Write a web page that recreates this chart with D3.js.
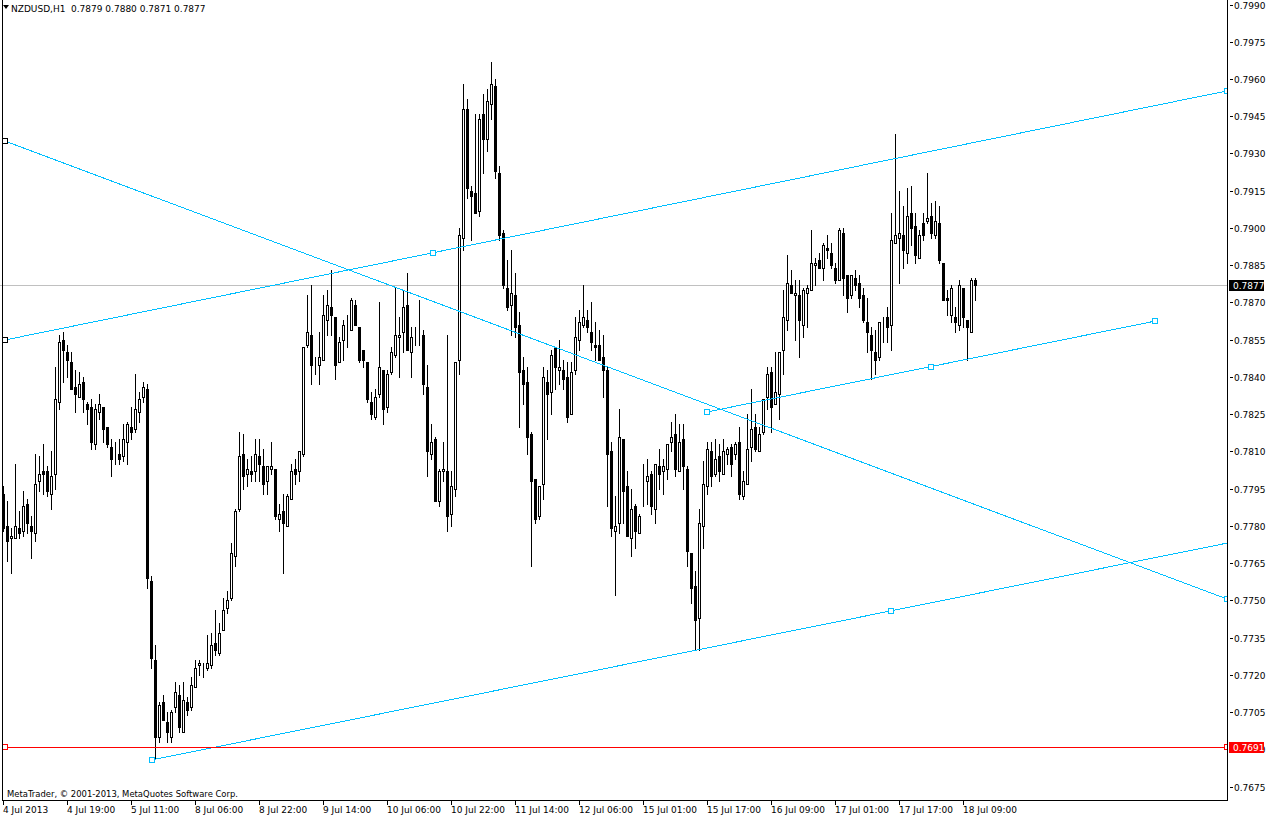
<!DOCTYPE html>
<html>
<head>
<meta charset="utf-8">
<script src="https://cdn.jsdelivr.net/npm/d3@7"></script>
<style>
html, body { margin: 0; padding: 0; background: #fff; }
svg { display: block; font-family: "DejaVu Sans", sans-serif; font-size: 9px; }
</style>
</head>
<body>
<div id="chart"></div>
<script>
// NZDUSD H1 candles, 4 Jul 03:00 .. 18 Jul 12:00
const symbolName = 'NZDUSD,H1';
const lastQuote = '0.7879 0.7880 0.7871 0.7877';
const copyright = 'MetaTrader, \u00a9 2001-2013, MetaQuotes Software Corp.';

const barOpen = [
  .7793,.7780,.7775,.7775,.7779,.7778,.7789,.7780,.7777,.7798,
  .7802,.7802,.7793,.7801,.7830,.7855,.7850,.7846,.7836,.7832,
  .7838,.7829,.7828,.7813,.7826,.7828,.7820,.7812,.7808,.7809,
  .7808,.7814,.7820,.7819,.7826,.7832,.7835,.7758,.7726,.7695,
  .7709,.7701,.7695,.7707,.7712,.7697,.7709,.7707,.7715,.7724,
  .7724,.7723,.7724,.7733,.7729,.7738,.7747,.7751,.7768,.7787,
  .7809,.7801,.7802,.7802,.7808,.7804,.7798,.7803,.7803,.7783,
  .7786,.7780,.7791,.7803,.7802,.7809,.7853,.7857,.7844,.7845,
  .7847,.7863,.7868,.7864,.7846,.7855,.7860,.7859,.7869,.7860,
  .7851,.7846,.7830,.7824,.7833,.7843,.7828,.7842,.7849,.7856,
  .7858,.7869,.7850,.7857,.7858,.7857,.7836,.7809,.7815,.7790,
  .7802,.7802,.7785,.7795,.7847,.7896,.7948,.7915,.7914,.7907,
  .7946,.7936,.7950,.7957,.7922,.7898,.7876,.7869,.7873,.7861,
  .7843,.7838,.7817,.7799,.7784,.7797,.7838,.7834,.7852,.7843,
  .7843,.7840,.7825,.7843,.7855,.7861,.7863,.7858,.7853,.7853,
  .7848,.7843,.7810,.7778,.7781,.7815,.7796,.7775,.7788,.7777,
  .7799,.7798,.7801,.7787,.7804,.7802,.7803,.7814,.7817,.7802,
  .7815,.7803,.7769,.7756,.7743,.7780,.7796,.7810,.7801,.7808,
  .7801,.7809,.7812,.7809,.7814,.7792,.7797,.7812,.7820,.7810,
  .7818,.7832,.7842,.7829,.7833,.7851,.7863,.7877,.7873,.7873,
  .7861,.7874,.7875,.7885,.7887,.7884,.7892,.7890,.7884,.7879,
  .7898,.7881,.7873,.7880,.7878,.7873,.7862,.7857,.7850,.7848,
  .7863,.7864,.7861,.7894,.7896,.7897,.7890,.7906,.7901,.7888,
  .7902,.7903,.7905,.7897,.7902,.7886,.7872,.7865,.7864,.7861,
  .7876,.7863,.7858,.7879
];
const barHigh = [
  .7796,.7790,.7779,.7805,.7786,.7794,.7791,.7784,.7809,.7808,
  .7813,.7804,.7810,.7844,.7857,.7858,.7853,.7850,.7843,.7842,
  .7840,.7830,.7831,.7829,.7833,.7828,.7820,.7815,.7814,.7815,
  .7821,.7822,.7828,.7841,.7834,.7838,.7837,.7760,.7732,.7709,
  .7712,.7705,.7706,.7717,.7716,.7717,.7711,.7719,.7726,.7726,
  .7725,.7736,.7737,.7746,.7741,.7751,.7754,.7773,.7787,.7818,
  .7817,.7807,.7808,.7815,.7815,.7811,.7804,.7814,.7803,.7789,
  .7793,.7793,.7805,.7807,.7810,.7852,.7873,.7877,.7848,.7858,
  .7873,.7875,.7883,.7864,.7856,.7863,.7865,.7872,.7871,.7860,
  .7851,.7846,.7834,.7835,.7870,.7843,.7843,.7852,.7876,.7864,
  .7875,.7882,.7860,.7860,.7871,.7859,.7845,.7821,.7816,.7803,
  .7814,.7857,.7802,.7846,.7900,.7958,.7952,.7917,.7946,.7946,
  .7954,.7956,.7967,.7960,.7925,.7899,.7887,.7891,.7882,.7866,
  .7848,.7844,.7818,.7799,.7796,.7844,.7843,.7851,.7852,.7855,
  .7847,.7846,.7846,.7864,.7867,.7877,.7867,.7870,.7862,.7859,
  .7857,.7844,.7814,.7792,.7827,.7815,.7802,.7795,.7789,.7785,
  .7805,.7807,.7802,.7805,.7811,.7807,.7813,.7822,.7825,.7821,
  .7821,.7804,.7769,.7762,.7787,.7806,.7814,.7814,.7815,.7813,
  .7815,.7812,.7813,.7814,.7820,.7802,.7825,.7835,.7825,.7820,
  .7831,.7844,.7844,.7850,.7850,.7875,.7889,.7883,.7879,.7879,
  .7876,.7877,.7899,.7888,.7890,.7894,.7897,.7894,.7886,.7900,
  .7900,.7881,.7881,.7883,.7881,.7876,.7872,.7860,.7859,.7862,
  .7864,.7868,.7906,.7938,.7915,.7909,.7916,.7917,.7906,.7899,
  .7906,.7922,.7910,.7911,.7909,.7886,.7875,.7877,.7868,.7879,
  .7876,.7863,.7880,.7880
];
const barLow = [
  .7778,.7766,.7761,.7775,.7775,.7776,.7777,.7767,.7774,.7794,
  .7793,.7792,.7787,.7795,.7827,.7838,.7840,.7835,.7826,.7832,
  .7826,.7821,.7811,.7811,.7823,.7814,.7812,.7800,.7805,.7805,
  .7806,.7805,.7815,.7818,.7822,.7830,.7755,.7723,.7686,.7693,
  .7702,.7693,.7693,.7705,.7697,.7697,.7704,.7706,.7715,.7720,
  .7719,.7722,.7723,.7728,.7728,.7738,.7745,.7750,.7764,.7786,
  .7795,.7796,.7798,.7798,.7798,.7793,.7793,.7801,.7783,.7778,
  .7761,.7780,.7791,.7797,.7798,.7808,.7852,.7837,.7841,.7837,
  .7847,.7857,.7857,.7839,.7846,.7847,.7852,.7859,.7861,.7846,
  .7844,.7830,.7823,.7823,.7832,.7821,.7826,.7841,.7848,.7840,
  .7850,.7851,.7840,.7853,.7853,.7833,.7800,.7807,.7790,.7788,
  .7798,.7778,.7780,.7792,.7841,.7891,.7912,.7895,.7906,.7905,
  .7922,.7931,.7944,.7920,.7895,.7876,.7867,.7857,.7856,.7820,
  .7829,.7809,.7764,.7781,.7783,.7791,.7815,.7825,.7835,.7837,
  .7835,.7822,.7825,.7841,.7851,.7860,.7858,.7851,.7847,.7847,
  .7832,.7788,.7776,.7752,.7777,.7781,.7776,.7768,.7771,.7777,
  .7788,.7789,.7785,.7781,.7795,.7793,.7799,.7810,.7800,.7802,
  .7795,.7764,.7749,.7730,.7730,.7771,.7793,.7796,.7800,.7798,
  .7801,.7805,.7800,.7807,.7791,.7791,.7797,.7806,.7810,.7810,
  .7817,.7827,.7818,.7829,.7823,.7841,.7859,.7874,.7855,.7848,
  .7856,.7860,.7875,.7877,.7884,.7879,.7888,.7884,.7878,.7879,
  .7873,.7866,.7872,.7875,.7868,.7862,.7850,.7839,.7841,.7847,
  .7854,.7854,.7851,.7894,.7878,.7884,.7886,.7893,.7886,.7888,
  .7895,.7902,.7896,.7896,.7886,.7871,.7865,.7862,.7858,.7859,
  .7860,.7847,.7858,.7871
];
const barClose = [
  .7779,.7774,.7776,.7780,.7777,.7788,.7781,.7778,.7797,.7801,
  .7801,.7794,.7800,.7831,.7854,.7851,.7847,.7835,.7833,.7837,
  .7831,.7827,.7814,.7827,.7829,.7819,.7813,.7807,.7808,.7807,
  .7815,.7821,.7818,.7827,.7831,.7836,.7759,.7727,.7695,.7708,
  .7702,.7697,.7705,.7713,.7699,.7710,.7706,.7716,.7723,.7725,
  .7724,.7725,.7732,.7730,.7737,.7746,.7750,.7769,.7786,.7808,
  .7800,.7803,.7801,.7809,.7805,.7797,.7804,.7804,.7784,.7785,
  .7781,.7792,.7802,.7801,.7810,.7852,.7858,.7845,.7844,.7848,
  .7865,.7869,.7865,.7845,.7854,.7861,.7860,.7871,.7861,.7847,
  .7847,.7831,.7825,.7832,.7844,.7827,.7841,.7850,.7857,.7857,
  .7868,.7851,.7856,.7857,.7858,.7837,.7810,.7814,.7790,.7802,
  .7803,.7784,.7796,.7846,.7897,.7948,.7916,.7913,.7906,.7944,
  .7936,.7951,.7958,.7923,.7897,.7877,.7868,.7874,.7860,.7842,
  .7837,.7816,.7798,.7783,.7796,.7840,.7833,.7849,.7844,.7844,
  .7839,.7824,.7842,.7856,.7862,.7864,.7860,.7854,.7852,.7847,
  .7843,.7809,.7779,.7780,.7816,.7794,.7776,.7787,.7778,.7784,
  .7799,.7800,.7788,.7805,.7801,.7804,.7813,.7816,.7803,.7814,
  .7804,.7770,.7755,.7742,.7781,.7797,.7811,.7800,.7807,.7802,
  .7810,.7811,.7805,.7813,.7793,.7798,.7811,.7819,.7811,.7817,
  .7831,.7841,.7828,.7834,.7850,.7864,.7878,.7874,.7874,.7863,
  .7875,.7876,.7886,.7886,.7884,.7893,.7891,.7885,.7879,.7899,
  .7880,.7872,.7881,.7877,.7872,.7863,.7858,.7851,.7847,.7862,
  .7863,.7860,.7895,.7897,.7898,.7891,.7905,.7900,.7889,.7897,
  .7897,.7904,.7898,.7903,.7887,.7871,.7871,.7876,.7862,.7877,
  .7864,.7860,.7879,.7877
];

// one label every 16 bars
const timeLabels = [
  '4 Jul 2013', '4 Jul 19:00', '5 Jul 11:00', '8 Jul 06:00', '8 Jul 22:00',
  '9 Jul 14:00', '10 Jul 06:00', '10 Jul 22:00', '11 Jul 14:00', '12 Jul 06:00',
  '15 Jul 01:00', '15 Jul 17:00', '16 Jul 09:00', '17 Jul 01:00', '17 Jul 17:00',
  '18 Jul 09:00'
];
const priceLabels = [
  '0.7990', '0.7975', '0.7960', '0.7945', '0.7930', '0.7915', '0.7900', '0.7885',
  '0.7870', '0.7855', '0.7840', '0.7825', '0.7810', '0.7795', '0.7780', '0.7765',
  '0.7750', '0.7735', '0.7720', '0.7705', '0.7690', '0.7675'
];

const bidPrice = 0.7877;
const supportPrice = 0.7691;

// trend line anchors: [bar, price]; marks = bars where a handle square sits
const trendLines = [
  { a: [0.5, 0.79350], b: [306, 0.77506], marks: [0.5, 306] },
  { a: [0.5, 0.78549], b: [306, 0.79552], marks: [0.5, 107.5, 306] },
  { a: [37.25, 0.76858], b: [306, 0.77731], marks: [37.25, 222] },
  { a: [176, 0.78259], b: [288, 0.78625], marks: [176, 232, 288] }
];

const W = 1268, H = 818;
const plotRight = 1227, plotBottom = 800;
const cyan = '#00bfff';
const red = '#ff0000';

const svg = d3.select('#chart').append('svg')
  .attr('width', W)
  .attr('height', H);

const x = d3.scaleLinear().domain([0, 306]).range([3, 1227]);
const y = d3.scaleLinear().domain([0.7675, 0.7990]).range([786.7, 4.5]);

const px = v => Math.round(x(v));
const py = v => Math.round(y(v));

svg.append('defs').append('clipPath').attr('id', 'plot')
  .append('rect').attr('x', 0).attr('y', 0).attr('width', plotRight + 1).attr('height', plotBottom);

// bid line under the candles
svg.append('line')
  .attr('x1', 0).attr('x2', plotRight)
  .attr('y1', py(bidPrice) + 0.5).attr('y2', py(bidPrice) + 0.5)
  .attr('stroke', '#c0c0c0').attr('shape-rendering', 'crispEdges');

const bars = d3.range(barOpen.length).map(i => ({
  i, o: barOpen[i], h: barHigh[i], l: barLow[i], c: barClose[i]
}));

const candles = svg.append('g').attr('shape-rendering', 'crispEdges');

candles.selectAll('line.wick').data(bars).join('line')
  .attr('class', 'wick')
  .attr('x1', d => px(d.i) + 0.5).attr('x2', d => px(d.i) + 0.5)
  .attr('y1', d => py(d.h)).attr('y2', d => py(d.l) + 1)
  .attr('stroke', '#000');

candles.selectAll('rect.bull').data(bars.filter(d => d.c >= d.o)).join('rect')
  .attr('class', 'bull')
  .attr('x', d => px(d.i) - 0.5)
  .attr('y', d => py(d.c) + 0.5)
  .attr('width', 2)
  .attr('height', d => py(d.o) - py(d.c))
  .attr('fill', '#fff').attr('stroke', '#000');

candles.selectAll('rect.bear').data(bars.filter(d => d.c < d.o)).join('rect')
  .attr('class', 'bear')
  .attr('x', d => px(d.i) - 1)
  .attr('y', d => py(d.o))
  .attr('width', 3)
  .attr('height', d => Math.max(1, py(d.c) - py(d.o) + 1))
  .attr('fill', '#000');

// drawn objects
const objs = svg.append('g').attr('clip-path', 'url(#plot)');

objs.selectAll('line.trend').data(trendLines).join('line')
  .attr('class', 'trend')
  .attr('x1', d => x(d.a[0])).attr('y1', d => y(d.a[1]))
  .attr('x2', d => x(d.b[0])).attr('y2', d => y(d.b[1]))
  .attr('stroke', cyan).attr('stroke-width', 1)
  .attr('shape-rendering', 'crispEdges');

objs.append('rect')
  .attr('x', x(0.5)).attr('y', py(supportPrice))
  .attr('width', plotRight - x(0.5)).attr('height', 1)
  .attr('fill', red).attr('shape-rendering', 'crispEdges');

const marks = [];
trendLines.forEach(t => {
  t.marks.forEach(b => {
    const p = t.a[1] + (t.b[1] - t.a[1]) * (b - t.a[0]) / (t.b[0] - t.a[0]);
    marks.push({ b, p, color: b < 1 ? '#000' : cyan });
  });
});
marks.push({ b: 0.5, p: supportPrice, color: red });
marks.push({ b: 306, p: supportPrice, color: red });

objs.selectAll('rect.mark').data(marks).join('rect')
  .attr('class', 'mark')
  .attr('x', d => Math.round(x(d.b)) - 2.5)
  .attr('y', d => Math.round(y(d.p)) - 2.5)
  .attr('width', 5).attr('height', 5)
  .attr('fill', '#fff').attr('stroke', d => d.color)
  .attr('shape-rendering', 'crispEdges');

// frame
const frame = svg.append('g').attr('stroke', '#000').attr('shape-rendering', 'crispEdges');
frame.append('line').attr('x1', 2.5).attr('x2', 2.5).attr('y1', 0).attr('y2', plotBottom + 1);
frame.append('line').attr('x1', plotRight + 0.5).attr('x2', plotRight + 0.5).attr('y1', 0).attr('y2', plotBottom + 1);
frame.append('line').attr('x1', 2).attr('x2', plotRight + 1).attr('y1', plotBottom + 0.5).attr('y2', plotBottom + 0.5);

// price scale
const pAxis = svg.append('g');
pAxis.selectAll('line').data(priceLabels).join('line')
  .attr('x1', plotRight + 3).attr('x2', plotRight + 6)
  .attr('y1', d => py(+d) + 0.5).attr('y2', d => py(+d) + 0.5)
  .attr('stroke', '#000').attr('shape-rendering', 'crispEdges');
pAxis.selectAll('text').data(priceLabels).join('text')
  .attr('x', plotRight + 7)
  .attr('y', d => py(+d) + 3.5)
  .attr('fill', '#000')
  .text(d => d);

// time scale
const tAxis = svg.append('g');
tAxis.selectAll('line').data(timeLabels).join('line')
  .attr('x1', (d, k) => px(k * 16) + 0.5).attr('x2', (d, k) => px(k * 16) + 0.5)
  .attr('y1', plotBottom).attr('y2', plotBottom + 5)
  .attr('stroke', '#000').attr('shape-rendering', 'crispEdges');
tAxis.selectAll('text').data(timeLabels).join('text')
  .attr('x', (d, k) => px(k * 16))
  .attr('y', plotBottom + 13)
  .attr('fill', '#000')
  .text(d => d);

// price tags
function tag(price, bg) {
  const yy = py(price);
  svg.append('rect')
    .attr('x', plotRight + 2).attr('y', yy - 5)
    .attr('width', 35).attr('height', 11)
    .attr('fill', bg).attr('shape-rendering', 'crispEdges');
  svg.append('text')
    .attr('x', plotRight + 6).attr('y', yy + 4)
    .attr('fill', '#fff')
    .text(price.toFixed(4));
}
tag(bidPrice, '#000');
tag(supportPrice, red);

// header and footer text
svg.append('path').attr('d', 'M3,5L9,5L6,9Z').attr('fill', '#000');
svg.append('text').attr('x', 11).attr('y', 12).text(symbolName);
svg.append('text').attr('x', 71).attr('y', 12).text(lastQuote);
svg.append('text').attr('x', 7).attr('y', 797)
  .attr('textLength', 231).attr('lengthAdjust', 'spacingAndGlyphs')
  .text(copyright);
</script>
</body>
</html>
